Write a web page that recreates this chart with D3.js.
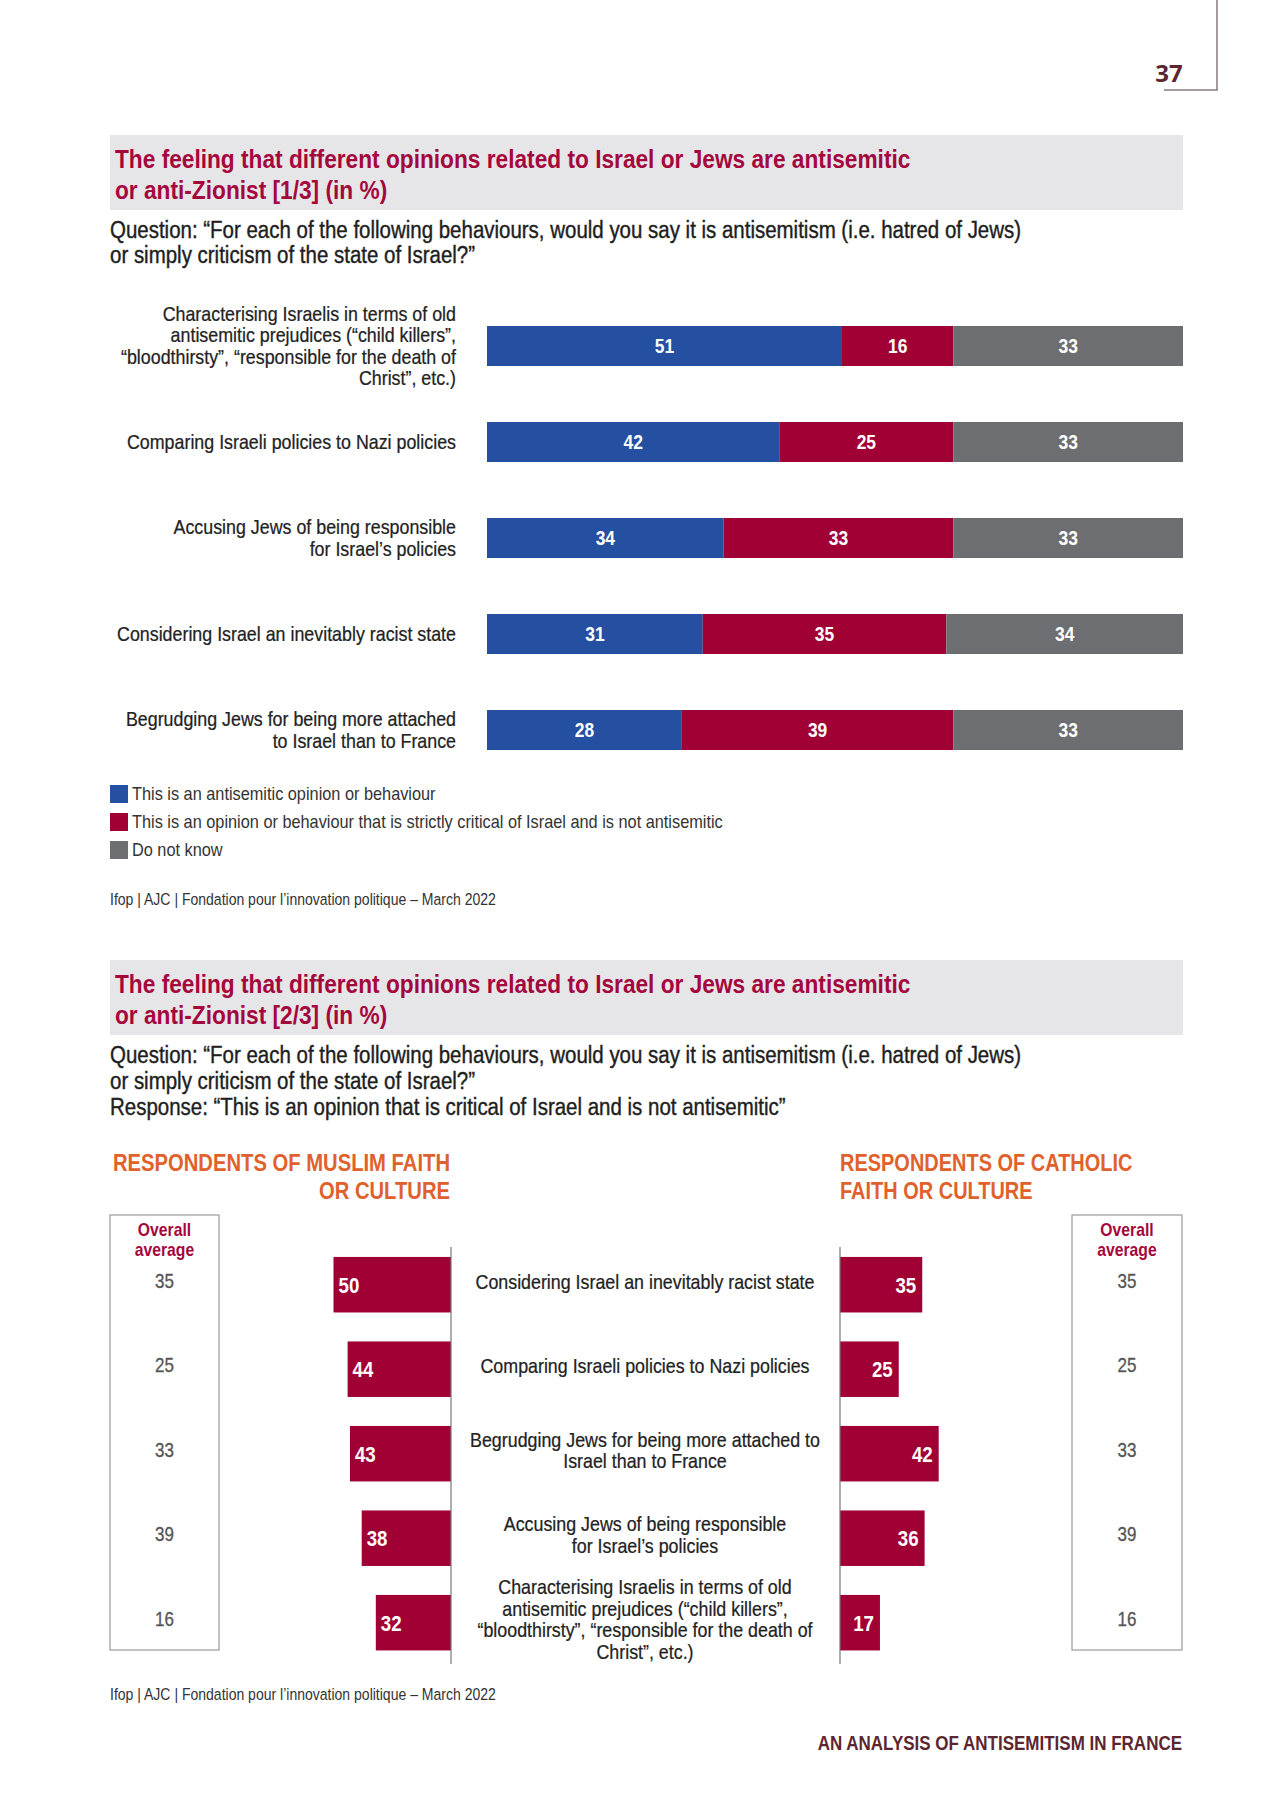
<!DOCTYPE html>
<html>
<head>
<meta charset="utf-8">
<script src="https://cdn.jsdelivr.net/npm/d3@7"></script>
<style>
  html, body { margin: 0; padding: 0; background: #fff; }
  svg { display: block; }
  text { font-family: "Liberation Sans", Arial, sans-serif; }
</style>
</head>
<body>
<script>
// ---------- DATA ----------
const chart1Categories = [
  ["Characterising Israelis in terms of old", "antisemitic prejudices (“child killers”,", "“bloodthirsty”, “responsible for the death of", "Christ”, etc.)"],
  ["Comparing Israeli policies to Nazi policies"],
  ["Accusing Jews of being responsible", "for Israel’s policies"],
  ["Considering Israel an inevitably racist state"],
  ["Begrudging Jews for being more attached", "to Israel than to France"]
];
const antisemiticValues = [51, 42, 34, 31, 28];
const criticalValues = [16, 25, 33, 35, 39];
const dontKnowValues = [33, 33, 33, 34, 33];
const seriesNames = [
  "This is an antisemitic opinion or behaviour",
  "This is an opinion or behaviour that is strictly critical of Israel and is not antisemitic",
  "Do not know"
];

const chart2Categories = [
  ["Considering Israel an inevitably racist state"],
  ["Comparing Israeli policies to Nazi policies"],
  ["Begrudging Jews for being more attached to", "Israel than to France"],
  ["Accusing Jews of being responsible", "for Israel’s policies"],
  ["Characterising Israelis in terms of old", "antisemitic prejudices (“child killers”,", "“bloodthirsty”, “responsible for the death of", "Christ”, etc.)"]
];
const muslimValues = [50, 44, 43, 38, 32];
const catholicValues = [35, 25, 42, 36, 17];
const overallAverage = [35, 25, 33, 39, 16];

const title1 = ["The feeling that different opinions related to Israel or Jews are antisemitic", "or anti-Zionist [1/3] (in %)"];
const title2 = ["The feeling that different opinions related to Israel or Jews are antisemitic", "or anti-Zionist [2/3] (in %)"];
const question1 = ["Question: “For each of the following behaviours, would you say it is antisemitism (i.e. hatred of Jews)", "or simply criticism of the state of Israel?”"];
const question2 = ["Question: “For each of the following behaviours, would you say it is antisemitism (i.e. hatred of Jews)", "or simply criticism of the state of Israel?”", "Response: “This is an opinion that is critical of Israel and is not antisemitic”"];
const sourceText = "Ifop | AJC | Fondation pour l’innovation politique – March 2022";
const muslimHeading = ["RESPONDENTS OF MUSLIM FAITH", "OR CULTURE"];
const catholicHeading = ["RESPONDENTS OF CATHOLIC", "FAITH OR CULTURE"];
const overallHeading = ["Overall", "average"];
const footerText = "AN ANALYSIS OF ANTISEMITISM IN FRANCE";
const pageNumber = "37";

// ---------- STYLE ----------
const BLUE = "#254fa0", RED = "#a10034", GREY = "#6d6e71";
const TITLE = "#a5073d", ORANGE = "#e0612b", MAROON = "#5c2630", TEXT = "#222";
const colors = [BLUE, RED, GREY];
const SX = 0.85; // condensed look

const W = 1280, H = 1809;
const svg = d3.select("body").append("svg").attr("width", W).attr("height", H);

// condensed multi-line text helper
function ctext(parent, x, y, lines, size, lh, opts = {}) {
  const t = parent.append("text")
    .attr("transform", `translate(${x},${y}) scale(${opts.sx || SX},1)`)
    .attr("font-size", size)
    .attr("fill", opts.fill || TEXT)
    .attr("font-weight", opts.weight || "normal")
    .attr("text-anchor", opts.anchor || "start");
  if (opts.stroke) t.attr("stroke", opts.fill || TEXT).attr("stroke-width", opts.stroke);
  lines.forEach((l, i) => t.append("tspan").attr("x", 0).attr("y", i * lh).text(l));
  return t;
}

// page number + corner line
svg.append("path").attr("d", "M1217,0 V90 H1164").attr("fill", "none").attr("stroke", "#8a7a7e").attr("stroke-width", 1.5);
svg.append("text").attr("x", 1169).attr("y", 82).attr("text-anchor", "middle")
  .attr("font-size", 24).attr("font-weight", "bold").attr("fill", MAROON)
  .style("font-family", "'Open Sans', 'Noto Sans', sans-serif").text(pageNumber);

function titleBox(y0, lines) {
  svg.append("rect").attr("x", 110).attr("y", y0).attr("width", 1073).attr("height", 75).attr("fill", "#e6e6e8");
  ctext(svg, 115, y0 + 33, lines, 26.7, 31, { fill: TITLE, weight: "bold" });
}

// ---------- CHART 1 ----------
titleBox(135, title1);
ctext(svg, 110, 238, question1, 23, 25.5, { fill: "#1e1e1e", stroke: 0.4, sx: 0.89 });

const x1 = d3.scaleLinear().domain([0, 100]).range([487, 1183]);
const y1 = d3.scaleBand().domain(d3.range(chart1Categories.length)).range([302, 774]).paddingInner(0.5833).paddingOuter(0.25);

const stackRows = antisemiticValues.map((v, i) => ({ i, a: v, b: criticalValues[i], c: dontKnowValues[i] }));
const stacked = d3.stack().keys(["a", "b", "c"])(stackRows);

const g1 = svg.append("g");
stacked.forEach((layer, k) => {
  const lg = g1.append("g");
  lg.selectAll("rect").data(layer).join("rect")
    .attr("x", d => x1(d[0])).attr("width", d => x1(d[1]) - x1(d[0]))
    .attr("y", (d, i) => y1(i)).attr("height", y1.bandwidth())
    .attr("fill", colors[k]);
  lg.selectAll("text").data(layer).join("text")
    .attr("transform", (d, i) => `translate(${(x1(d[0]) + x1(d[1])) / 2},${y1(i) + y1.bandwidth() / 2 + 7}) scale(${SX},1)`)
    .attr("text-anchor", "middle").attr("font-size", 20.5).attr("font-weight", "bold").attr("fill", "#fff")
    .text(d => d[1] - d[0]);
});
chart1Categories.forEach((lines, i) => {
  const lh = 21.5;
  const cy = y1(i) + y1.bandwidth() / 2;
  ctext(svg, 456, cy - (lines.length - 1) * lh / 2 + 7, lines, 21, lh, { anchor: "end", fill: "#222", stroke: 0.25 });
});

// legend
seriesNames.forEach((s, i) => {
  const y = 785 + i * 28;
  svg.append("rect").attr("x", 110).attr("y", y).attr("width", 18).attr("height", 18).attr("fill", colors[i]);
  ctext(svg, 132, y + 15, [s], 19.2, 0, { fill: "#333" });
});
ctext(svg, 110, 905, [sourceText], 16.5, 0, { fill: "#333" });

// ---------- CHART 2 ----------
titleBox(960, title2);
ctext(svg, 110, 1063, question2, 23, 26, { fill: "#1e1e1e", stroke: 0.4, sx: 0.89 });

ctext(svg, 450, 1171, muslimHeading, 23.8, 28, { anchor: "end", fill: ORANGE, weight: "bold" });
ctext(svg, 840, 1171, catholicHeading, 23.5, 28, { anchor: "start", fill: ORANGE, weight: "bold" });

const xMax = 100;
const xLeft = d3.scaleLinear().domain([0, xMax]).range([451, 451 - 235]);
const xRight = d3.scaleLinear().domain([0, xMax]).range([840, 840 + 235]);
const y2 = d3.scaleBand().domain(d3.range(chart2Categories.length)).range([1231.6, 1675.8]).paddingInner(0.343).paddingOuter(0.3);

// overall average boxes
[[110, 219], [1072, 1182]].forEach(([xa, xb]) => {
  svg.append("rect").attr("x", xa).attr("y", 1215).attr("width", xb - xa).attr("height", 435)
    .attr("fill", "none").attr("stroke", "#9a9a9a").attr("stroke-width", 1.2);
  const cx = (xa + xb) / 2;
  ctext(svg, cx, 1236, overallHeading, 18.5, 20, { anchor: "middle", fill: TITLE, weight: "bold" });
  svg.append("g").selectAll("text").data(overallAverage).join("text")
    .attr("transform", (d, i) => `translate(${cx},${y2(i) + y2.bandwidth() / 2 + 3}) scale(${SX},1)`)
    .attr("text-anchor", "middle").attr("font-size", 20).attr("fill", "#555")
    .attr("stroke", "#555").attr("stroke-width", 0.3).text(d => d);
});

// bars
const gL = svg.append("g");
gL.selectAll("rect").data(muslimValues).join("rect")
  .attr("x", d => xLeft(d)).attr("width", d => xLeft(0) - xLeft(d))
  .attr("y", (d, i) => y2(i)).attr("height", y2.bandwidth()).attr("fill", RED);
gL.selectAll("text").data(muslimValues).join("text")
  .attr("transform", (d, i) => `translate(${xLeft(d) + 5},${y2(i) + y2.bandwidth() / 2 + 8}) scale(${SX},1)`)
  .attr("font-size", 22).attr("font-weight", "bold").attr("fill", "#fff").text(d => d);

const gR = svg.append("g");
gR.selectAll("rect").data(catholicValues).join("rect")
  .attr("x", xRight(0)).attr("width", d => xRight(d) - xRight(0))
  .attr("y", (d, i) => y2(i)).attr("height", y2.bandwidth()).attr("fill", RED);
gR.selectAll("text").data(catholicValues).join("text")
  .attr("transform", (d, i) => `translate(${xRight(d) - 6},${y2(i) + y2.bandwidth() / 2 + 8}) scale(${SX},1)`)
  .attr("text-anchor", "end").attr("font-size", 22).attr("font-weight", "bold").attr("fill", "#fff").text(d => d);

// axis lines
svg.append("line").attr("x1", 451).attr("x2", 451).attr("y1", 1247).attr("y2", 1664).attr("stroke", "#777").attr("stroke-width", 1.2);
svg.append("line").attr("x1", 840).attr("x2", 840).attr("y1", 1247).attr("y2", 1664).attr("stroke", "#777").attr("stroke-width", 1.2);

// center labels
chart2Categories.forEach((lines, i) => {
  const lh = 21.5;
  const cy = y2(i) + y2.bandwidth() / 2;
  ctext(svg, 645, cy - (lines.length - 1) * lh / 2 + 4, lines, 21, lh, { anchor: "middle", fill: "#222", stroke: 0.25 });
});

ctext(svg, 110, 1700, [sourceText], 16.5, 0, { fill: "#333" });
ctext(svg, 1182, 1750, [footerText], 20, 0, { anchor: "end", fill: MAROON, weight: "bold" });
</script>
</body>
</html>
